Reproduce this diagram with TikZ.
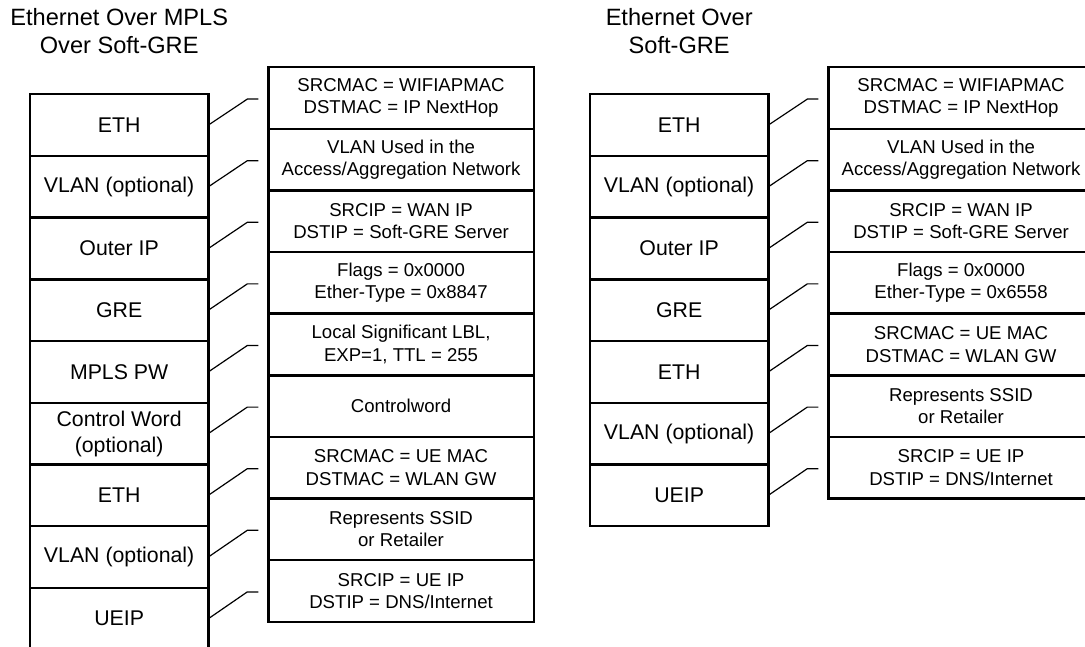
\documentclass[tikz,border=0pt]{standalone}
\usepackage{fontspec}
\setmainfont{Liberation Sans}
\usetikzlibrary{calc}

\tikzset{
  layer/.style={draw, line width=2.4pt, outer sep=0pt, inner sep=0pt,
    minimum width=178.3pt, minimum height=61.7pt, align=center,
    font=\fontsize{21.3}{25.8}\selectfont},
  info/.style={draw, line width=2.4pt, outer sep=0pt, inner sep=0pt,
    minimum width=265.5pt, minimum height=61.6pt, align=center,
    font=\fontsize{18.6}{22.4}\selectfont},
  heading/.style={align=center, font=\fontsize{23.6}{28}\selectfont},
  link/.style={line width=1.2pt}
}

\begin{document}
\begin{tikzpicture}[x=1pt, y=-1pt]
    \useasboundingbox (0,0) rectangle (1085,647);
    \clip (0,0) rectangle (1085,647);

    % Ethernet over MPLS over Soft-GRE
    \node[heading] (mplsTitle) at (119.2,31.5) {Ethernet Over MPLS\\Over Soft-GRE};

    \node[layer] (mEth)   at (119.15,125.15) {ETH};
    \node[layer] (mVlan)  at (119.15,186.85) {VLAN (optional)};
    \node[layer] (mOutIp) at (119.15,248.55) {Outer IP};
    \node[layer] (mGre)   at (119.15,310.25) {GRE};
    \node[layer] (mPw)    at (119.15,371.95) {MPLS PW};
    \node[layer] (mCw)    at (119.15,433.65) {Control Word\\(optional)};
    \node[layer] (mUeEth) at (119.15,495.35) {ETH};
    \node[layer] (mUeVl)  at (119.15,557.05) {VLAN (optional)};
    \node[layer] (mUeIp)  at (119.15,618.75) {UEIP};

    \node[info] (mEthInfo)   at (401.05,98.1)  {SRCMAC = WIFIAPMAC\\DSTMAC = IP NextHop};
    \node[info] (mVlanInfo)  at (401.05,159.7) {VLAN Used in the\\Access/Aggregation Network};
    \node[info] (mOutIpInfo) at (401.05,221.3) {SRCIP = WAN IP\\DSTIP = Soft-GRE Server};
    \node[info] (mGreInfo)   at (401.05,282.9) {Flags = 0x0000\\Ether-Type = 0x8847};
    \node[info] (mPwInfo)    at (401.05,344.5) {Local Significant LBL,\\EXP=1, TTL = 255};
    \node[info] (mCwInfo)    at (401.05,406.1) {Controlword};
    \node[info] (mUeEthInfo) at (401.05,467.7) {SRCMAC = UE MAC\\DSTMAC = WLAN GW};
    \node[info] (mUeVlInfo)  at (401.05,529.3) {Represents SSID\\or Retailer};
    \node[info] (mUeIpInfo)  at (401.05,590.9) {SRCIP = UE IP\\DSTIP = DNS/Internet};

    % Links, left
    \draw[link] (mEth.east)   -- ($(mEthInfo.west)+(-21,1)$)   -- ($(mEthInfo.west)+(-10,1)$);
    \draw[link] (mVlan.east)  -- ($(mVlanInfo.west)+(-21,1)$)  -- ($(mVlanInfo.west)+(-10,1)$);
    \draw[link] (mOutIp.east) -- ($(mOutIpInfo.west)+(-21,1)$) -- ($(mOutIpInfo.west)+(-10,1)$);
    \draw[link] (mGre.east)   -- ($(mGreInfo.west)+(-21,1)$)   -- ($(mGreInfo.west)+(-10,1)$);
    \draw[link] (mPw.east)    -- ($(mPwInfo.west)+(-21,1)$)    -- ($(mPwInfo.west)+(-10,1)$);
    \draw[link] (mCw.east)    -- ($(mCwInfo.west)+(-21,1)$)    -- ($(mCwInfo.west)+(-10,1)$);
    \draw[link] (mUeEth.east) -- ($(mUeEthInfo.west)+(-21,1)$) -- ($(mUeEthInfo.west)+(-10,1)$);
    \draw[link] (mUeVl.east)  -- ($(mUeVlInfo.west)+(-21,1)$)  -- ($(mUeVlInfo.west)+(-10,1)$);
    \draw[link] (mUeIp.east)  -- ($(mUeIpInfo.west)+(-21,1)$)  -- ($(mUeIpInfo.west)+(-10,1)$);

    % Ethernet over Soft-GRE
    \node[heading] (greTitle) at (679.2,31.5) {Ethernet Over\\Soft-GRE};

    \node[layer] (gEth)   at (679.15,125.15) {ETH};
    \node[layer] (gVlan)  at (679.15,186.85) {VLAN (optional)};
    \node[layer] (gOutIp) at (679.15,248.55) {Outer IP};
    \node[layer] (gGre)   at (679.15,310.25) {GRE};
    \node[layer] (gUeEth) at (679.15,371.95) {ETH};
    \node[layer] (gUeVl)  at (679.15,433.65) {VLAN (optional)};
    \node[layer] (gUeIp)  at (679.15,495.35) {UEIP};

    \node[info] (gEthInfo)   at (961.05,98.1)  {SRCMAC = WIFIAPMAC\\DSTMAC = IP NextHop};
    \node[info] (gVlanInfo)  at (961.05,159.7) {VLAN Used in the\\Access/Aggregation Network};
    \node[info] (gOutIpInfo) at (961.05,221.3) {SRCIP = WAN IP\\DSTIP = Soft-GRE Server};
    \node[info] (gGreInfo)   at (961.05,282.9) {Flags = 0x0000\\Ether-Type = 0x6558};
    \node[info] (gUeEthInfo) at (961.05,344.5) {SRCMAC = UE MAC\\DSTMAC = WLAN GW};
    \node[info] (gUeVlInfo)  at (961.05,406.1) {Represents SSID\\or Retailer};
    \node[info] (gUeIpInfo)  at (961.05,467.7) {SRCIP = UE IP\\DSTIP = DNS/Internet};

    % Links, right
    \draw[link] (gEth.east)   -- ($(gEthInfo.west)+(-21,1)$)   -- ($(gEthInfo.west)+(-10,1)$);
    \draw[link] (gVlan.east)  -- ($(gVlanInfo.west)+(-21,1)$)  -- ($(gVlanInfo.west)+(-10,1)$);
    \draw[link] (gOutIp.east) -- ($(gOutIpInfo.west)+(-21,1)$) -- ($(gOutIpInfo.west)+(-10,1)$);
    \draw[link] (gGre.east)   -- ($(gGreInfo.west)+(-21,1)$)   -- ($(gGreInfo.west)+(-10,1)$);
    \draw[link] (gUeEth.east) -- ($(gUeEthInfo.west)+(-21,1)$) -- ($(gUeEthInfo.west)+(-10,1)$);
    \draw[link] (gUeVl.east)  -- ($(gUeVlInfo.west)+(-21,1)$)  -- ($(gUeVlInfo.west)+(-10,1)$);
    \draw[link] (gUeIp.east)  -- ($(gUeIpInfo.west)+(-21,1)$)  -- ($(gUeIpInfo.west)+(-10,1)$);
\end{tikzpicture}
\end{document}
